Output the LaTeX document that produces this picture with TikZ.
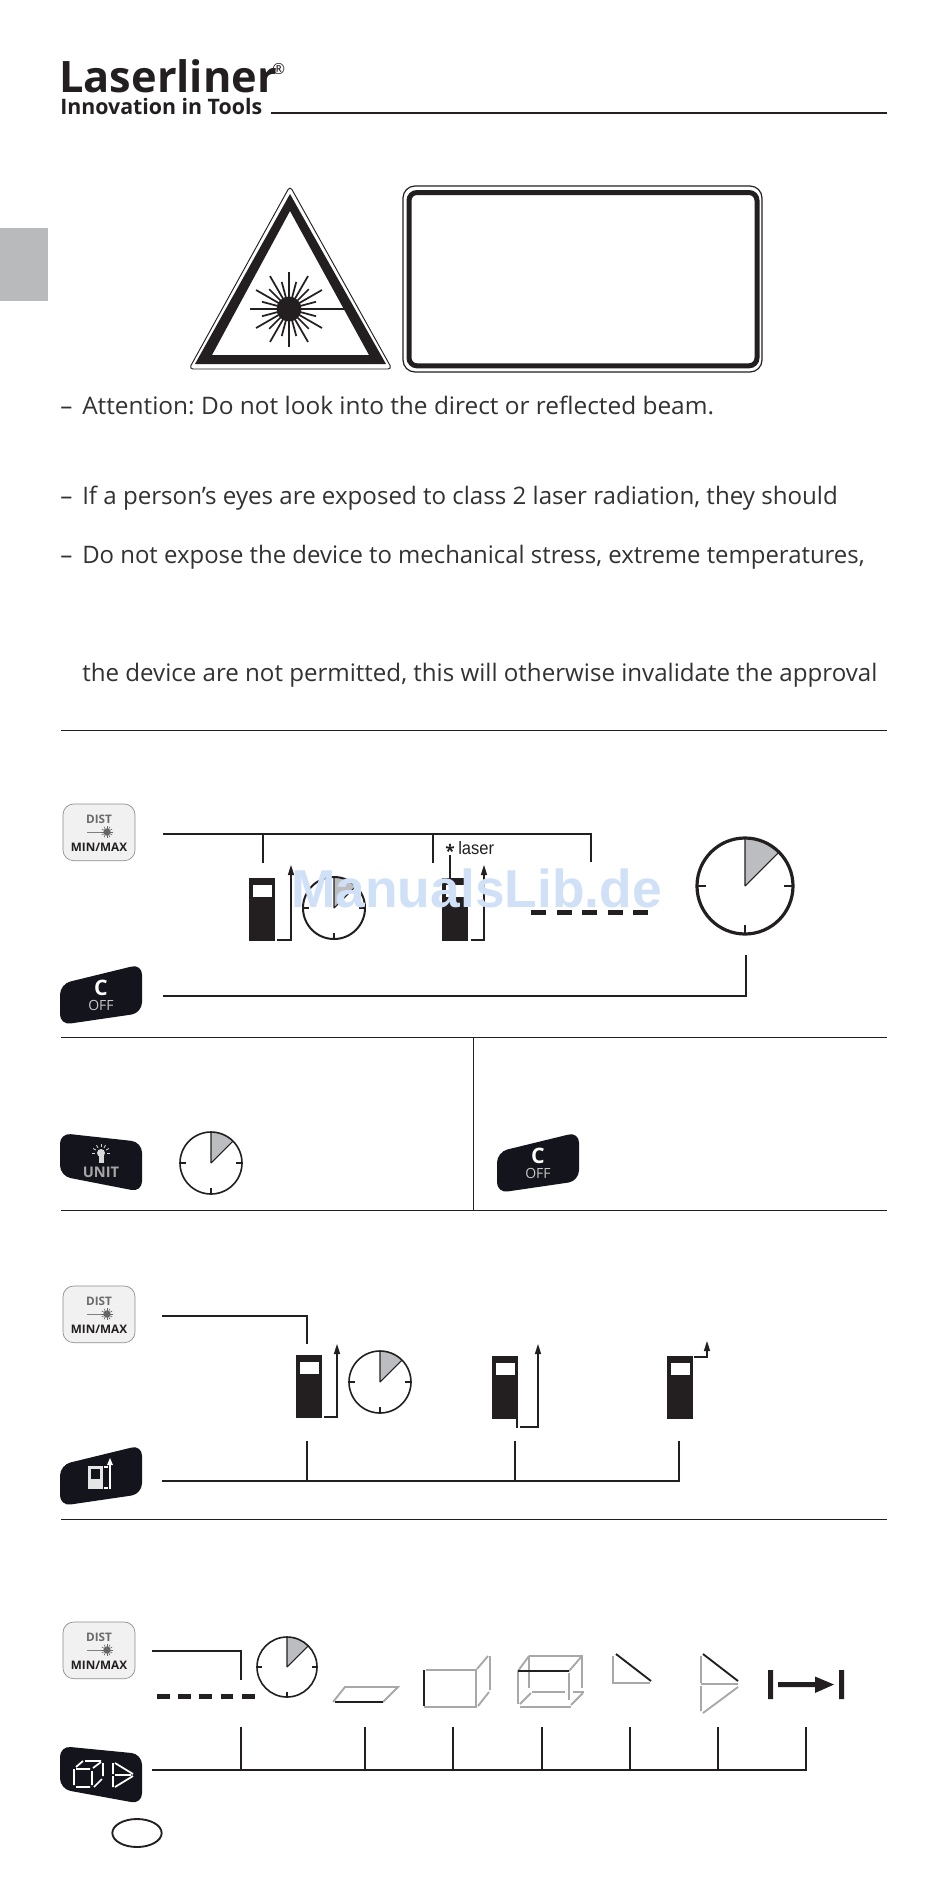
\documentclass[tikz,border=0pt]{standalone}
\usepackage{fontspec}
\setmainfont{Open Sans}
\newfontfamily\wmfont{Liberation Sans}
\usetikzlibrary{calc,shapes.geometric}
\frenchspacing
\definecolor{ink}{HTML}{231F20}
\definecolor{paraink}{HTML}{333133}
\definecolor{tabgray}{HTML}{B8BABC}
\definecolor{wedge}{HTML}{BCBDC0}
\definecolor{keydark}{HTML}{14141C}
\definecolor{keylight}{HTML}{F1F1F1}
\definecolor{keyedge}{HTML}{8C8C8C}
\definecolor{icongray}{HTML}{A8A8A8}
\definecolor{wm}{HTML}{CFE0F7}
\newcommand{\dashlead}{\makebox[16.5pt][l]{–}}
\tikzset{
  px/.style={x=0.75pt,y=-0.75pt},
  conn/.style={draw=ink,line width=1.6pt,line cap=butt,line join=miter},
  rule/.style={draw=ink,line width=0.75pt},
  para/.style={anchor=base west,inner sep=0pt,text=paraink,font=\fontsize{18.08}{20}\selectfont},
  devbody/.style={fill=ink,draw=none,inner sep=0pt,outer sep=0pt,minimum width=19.5pt,minimum height=47.2pt},
  devwin/.style={fill=white,draw=none,inner sep=0pt,outer sep=0pt,minimum width=14.2pt,minimum height=9.4pt},
  arrowline/.style={draw=ink,line width=1.3pt},
  gr/.style={draw=icongray,line width=1.4pt},
  bk/.style={draw=ink,line width=1.4pt},
  keytxt/.style={inner sep=0pt,font=\bfseries\fontsize{8.8}{9}\selectfont},
  offC/.style={inner sep=0pt,text=white,font=\bfseries\fontsize{16}{17}\selectfont},
  offT/.style={inner sep=0pt,text=black!22,font=\fontsize{10.5}{11}\selectfont},
}
\newcommand{\headup}[2]{\fill[ink] (#1-3.2,#2+10) -- (#1,#2) -- (#1+3.2,#2+10) -- cycle;}
\newcommand{\device}[3]{%
  \node[devbody,anchor=north west] (#1) at (#2,#3) {};
  \node[devwin,anchor=north west] (#1w) at (#2+4,#3+6.5) {};
}
\newcommand{\dial}[5]{%
  \node[circle,inner sep=0pt,minimum size=0pt] (#1) at (#2,#3) {};
  \fill[wedge] (#2,#3) -- (#2,#3-#4) arc[start angle=-90,end angle=-45,radius=#4] -- cycle;
  \draw[ink,line width=#5] (#2,#3) circle[radius=#4];
  \draw[ink,line width=0.8pt] (#2,#3) -- (#2,#3-#4) (#2,#3) -- ({#2+0.7071*#4},{#3-0.7071*#4});
  \draw[ink,line width=0.8pt] (#2-#4,#3) -- (#2-#4+0.18*#4,#3) (#2+#4,#3) -- (#2+#4-0.18*#4,#3) (#2,#3+#4) -- (#2,#3+#4-0.18*#4);
}
\newcommand{\distkey}[2]{%
  \node[draw=keyedge,line width=0.5pt,fill=keylight,rounded corners=8pt,inner sep=0pt,outer sep=0pt,minimum width=54pt,minimum height=42.5pt,anchor=north west] (#1) at (63,#2) {};
  \node[keytxt,text=black!58] (#1a) at (99,#2+15) {DIST};
  \node[keytxt,text=ink] (#1b) at (99,#2+43) {MIN/MAX};
  \draw[black!50,line width=0.5pt] (87,#2+28) -- (104,#2+28);
  \fill[black!60] (107,#2+28) circle[radius=3.6];
  \foreach \a in {0,30,...,330}{\draw[black!60,line width=0.45pt] (107,#2+28) -- ++(\a:6);}
}
\newcommand{\riskey}[2]{%
  \fill[keydark,rounded corners=8pt] (60,#2-1) -- (142,#2-21) -- (142,#2+28) -- (60,#2+40) -- cycle;
  \coordinate (#1) at (101,#2+10);
}
\begin{document}
\begin{tikzpicture}[px]
\useasboundingbox (0,0) rectangle (950,1882);
\fill[white] (0,0) rectangle (950,1882);
% logo
\node[anchor=base west,inner sep=0pt,text=ink,font=\bfseries\fontsize{32.5}{34}\selectfont] (logo) at (59,92) {Laserliner};
\node[anchor=west,inner sep=0pt,text=ink,font=\fontsize{11.5}{12}\selectfont] (reg) at (272,69) {®};
\node[anchor=base west,inner sep=0pt,text=ink,font=\bfseries\fontsize{16}{17}\selectfont] (tag) at (60,114) {Innovation in Tools};
\coordinate (hl) at (271,113); \coordinate (hr) at (887,113);
\draw[ink,line width=1.4pt] (hl) -- (hr);
% tab
\fill[tabgray] (0,228) rectangle (48,301);
% warning triangle
\draw[ink,line width=0.7pt,line join=round,rounded corners=3pt,fill=white] (290,186) -- (392,369) -- (189,369) -- cycle;
\fill[ink,even odd rule] (290,194) -- (386,364) -- (195,364) -- cycle (290,211) -- (369,355) -- (212,355) -- cycle;
\fill[ink] (289,309) circle[radius=12.5];
\foreach \a/\l in {30/38,60/38,90/38,120/38,150/38,180/39,210/38,240/38,270/37,300/38,330/38,15/28,45/28,75/28,105/28,135/28,165/28,195/28,225/28,255/28,285/28,315/28,345/28}{
  \draw[ink,line width=1.3pt] (289,309) -- ++({\a}:{\l});
}
\draw[ink,line width=1.8pt] (289,309) -- (349,309);
% sign frame
\node[draw=ink,line width=0.9pt,rounded corners=9pt,inner sep=0pt,outer sep=0pt,minimum width=269.25pt,minimum height=139.5pt,anchor=north west] (frame) at (403,186) {};
\node[draw=ink,line width=3.75pt,rounded corners=6pt,inner sep=0pt,outer sep=0pt,minimum width=261pt,minimum height=130pt,anchor=north west] (frameb) at (409,192.5) {};
% paragraphs
\node[para] (t1) at (60,414) {\dashlead\scalebox{1.013}[1]{Attention: Do not look into the direct or reflected beam.}};
\node[para] (t2) at (60,504) {\dashlead If a person’s eyes are exposed to class 2 laser radiation, they should};
\node[para] (t3) at (60,563) {\dashlead\scalebox{0.992}[1]{Do not expose the device to mechanical stress, extreme temperatures,}};
\node[para] (t4) at (82,681) {the device are not permitted, this will otherwise invalidate the approval};
% rules
\coordinate (r1l) at (61,730); \coordinate (r1r) at (887,730); \draw[rule] (r1l) -- (r1r);
\coordinate (r2l) at (61,1037); \coordinate (r2r) at (887,1037); \draw[rule] (r2l) -- (r2r);
\coordinate (r3l) at (61,1210); \coordinate (r3r) at (887,1210); \draw[rule] (r3l) -- (r3r);
\coordinate (r4l) at (61,1519); \coordinate (r4r) at (887,1519); \draw[rule] (r4l) -- (r4r);
\coordinate (vt) at (473,1037); \coordinate (vb) at (473,1210); \draw[rule] (vt) -- (vb);
% section 1
\distkey{k1}{804}
\riskey{k2}{985}
\node[offC] (k2a) at (101,988) {C};
\node[offT] (k2b) at (101,1005) {OFF};
\coordinate (a0) at (163,834); \coordinate (a1) at (591,834); \coordinate (a2) at (591,862);
\coordinate (b1t) at (263,834); \coordinate (b1) at (263,863); \coordinate (b2t) at (433,834); \coordinate (b2) at (433,863);
\draw[conn] (a0) -- (a1) -- (a2) (b1t) -- (b1) (b2t) -- (b2);
\device{d1}{249}{878}
\coordinate (e1) at (277,940); \coordinate (e2) at (291,940); \coordinate (e3) at (291,868);
\draw[arrowline] (e1) -- (e2) -- (e3); \headup{291}{865}
\dial{c1}{334}{908}{31}{1.5pt}
\device{d2}{442}{878}
\coordinate (f1) at (471,940); \coordinate (f2) at (484,940); \coordinate (f3) at (484,868);
\draw[arrowline] (f1) -- (f2) -- (f3); \headup{484}{865}
\node[inner sep=0pt,text=ink,font=\bfseries\fontsize{13}{14}\selectfont] (ast) at (450,851) {*};
\node[inner sep=0pt,text=ink,anchor=west,font=\wmfont\fontsize{13.5}{14}\selectfont] (las) at (458,848) {\scalebox{0.92}[1]{laser}};
\coordinate (as) at (450,855); \coordinate (asb) at (450,878);
\draw[arrowline] (as) -- (asb);
\foreach \x in {531,556.5,582,607.5,633}{\fill[ink] (\x,909.5) rectangle (\x+15,914.5);}
\dial{c2}{745}{886}{48}{2.4pt}
\coordinate (g0) at (163,996); \coordinate (g1) at (746,996); \coordinate (g2) at (746,955);
\draw[conn] (g0) -- (g1) -- (g2);
% section 2
\fill[keydark,rounded corners=8pt] (60,1133) -- (142,1142) -- (142,1192) -- (60,1176) -- cycle;
\coordinate (k3) at (101,1162);
\fill[black!15] (101,1153) circle[radius=4]; \fill[black!15] (98.5,1155) rectangle (103.5,1163);
\foreach \a in {-180,-150,-120,-90,-60,-30,0}{\draw[black!15,line width=0.6pt] (101,1153) ++(\a:6) -- ++(\a:3);}
\node[inner sep=0pt,text=black!35,font=\bfseries\fontsize{11}{12}\selectfont] (k3a) at (101,1172) {UNIT};
\dial{c3}{211}{1163}{31}{1.2pt}
\begin{scope}[shift={(437,168)}]
\riskey{k4}{985}
\node[offC] (k4a) at (101,988) {C};
\node[offT] (k4b) at (101,1005) {OFF};
\end{scope}
% section 3
\distkey{k5}{1286}
\riskey{k6}{1466}
\fill[white!90!black] (88,1466) rectangle (103,1489);
\fill[keydark] (91,1469) rectangle (100,1479);
\draw[white,line width=1pt] (110,1489) -- (110,1463);
\fill[white] (107,1465) -- (110,1458) -- (113,1465) -- cycle;
\draw[white,line width=0.8pt] (104,1467) -- (108,1467) (104,1488) -- (108,1488);
\coordinate (h0) at (162,1316); \coordinate (h1) at (307,1316); \coordinate (h2) at (307,1344);
\draw[conn] (h0) -- (h1) -- (h2);
\device{d3}{296}{1355}
\coordinate (m1) at (324,1417); \coordinate (m2) at (337,1417); \coordinate (m3) at (337,1347);
\draw[arrowline] (m1) -- (m2) -- (m3); \headup{337}{1344}
\dial{c4}{380}{1382}{31}{1.2pt}
\device{d4}{492}{1356}
\coordinate (n0) at (517,1419); \coordinate (n0b) at (517,1428); \draw[arrowline] (n0) -- (n0b);
\coordinate (n1) at (520,1427); \coordinate (n2) at (538,1427); \coordinate (n3) at (538,1347);
\draw[arrowline] (n1) -- (n2) -- (n3); \headup{538}{1344}
\device{d5}{667}{1356}
\coordinate (o1) at (694,1357); \coordinate (o2) at (707,1357); \coordinate (o3) at (707,1344);
\draw[arrowline] (o1) -- (o2) -- (o3); \headup{707}{1341}
\coordinate (p0) at (162,1481); \coordinate (p1) at (679,1481); \coordinate (p2) at (679,1441);
\coordinate (q1b) at (307,1481); \coordinate (q1) at (307,1441); \coordinate (q2b) at (515,1481); \coordinate (q2) at (515,1441);
\draw[conn] (p0) -- (p1) -- (p2) (q1b) -- (q1) (q2b) -- (q2);
% section 4
\distkey{k7}{1622}
\fill[keydark,rounded corners=8pt] (60,1746) -- (142,1754) -- (142,1804) -- (60,1789) -- cycle;
\coordinate (k8) at (101,1775);
\draw[white,line width=1.3pt] (74,1769) -- (74,1785) (76,1787) -- (90,1787) (92,1785) -- (92,1771) (76,1769) -- (90,1769) (76,1767) -- (83,1761) (85,1761) -- (101,1761) (103,1763) -- (103,1776) (94,1787) -- (102,1779) (93,1768) -- (101,1762);
\draw[white,line width=1.3pt] (113,1763) -- (113,1774) (113,1776) -- (113,1787) (115,1763) -- (133,1774) (115,1775) -- (131,1775) (115,1787) -- (133,1776);
\coordinate (s0) at (152,1651); \coordinate (s1) at (241,1651); \coordinate (s2) at (241,1680);
\draw[conn] (s0) -- (s1) -- (s2);
\foreach \x in {157,178.2,199.4,220.6,241.8}{\fill[ink] (\x,1693.5) rectangle (\x+12.7,1698.5);}
\dial{c5}{287}{1667}{30}{1.2pt}
% shape icons
\draw[gr] (333,1702) -- (345,1687) -- (398,1687) -- (383,1702);
\draw[bk] (335,1702) -- (383,1702);
\draw[bk] (424,1670) -- (424,1706);
\draw[gr] (426,1670) -- (476,1670) -- (476,1707) -- (424,1707);
\draw[gr] (477,1669) -- (488,1656) (490,1656) -- (490,1690) (489,1692) -- (478,1706);
\draw[gr] (518,1671) -- (518,1704) (569,1673) -- (569,1700) (520,1707) -- (571,1707);
\draw[gr] (529,1656) -- (529,1688) (529,1656) -- (582,1656) -- (582,1688) (532,1692) -- (565,1692) (573,1692) -- (584,1692);
\draw[gr] (518,1671) -- (529,1656) (569,1671) -- (582,1656) (520,1704) -- (531,1693) (571,1705) -- (583,1693);
\draw[bk] (518,1671) -- (569,1671);
\draw[gr] (613,1656) -- (613,1683) -- (650,1683);
\draw[bk] (616,1654) -- (651,1681);
\draw[gr] (701,1656) -- (701,1683) (701,1684) -- (738,1684) (701,1686) -- (701,1711) (703,1713) -- (738,1687);
\draw[bk] (703,1654) -- (738,1681);
\fill[ink] (768,1670) rectangle (773,1699) (839,1670) rectangle (844,1699);
\fill[ink] (778,1682) rectangle (815,1687) (815,1676.5) -- (834,1684.5) -- (815,1693) -- cycle;
% bottom bus
\coordinate (u0) at (152,1770); \coordinate (u1) at (806,1770); \coordinate (u2) at (806,1727);
\draw[conn] (u0) -- (u1) -- (u2);
\foreach \x/\n in {241/a,365/b,453/c,542/d,630/e,718/f}{
  \coordinate (ut\n) at (\x,1727); \coordinate (ub\n) at (\x,1770);
  \draw[conn] (ub\n) -- (ut\n);
}
\node[draw=ink,line width=1.4pt,ellipse,inner sep=0pt,outer sep=0pt,minimum width=37pt,minimum height=21pt] (oval) at (137,1833) {};
% watermark
\node[anchor=base west,inner sep=0pt,text=wm,font=\wmfont\bfseries\fontsize{40}{44}\selectfont] (wmk) at (291,907) {ManualsLib.de};
\end{tikzpicture}
\end{document}
